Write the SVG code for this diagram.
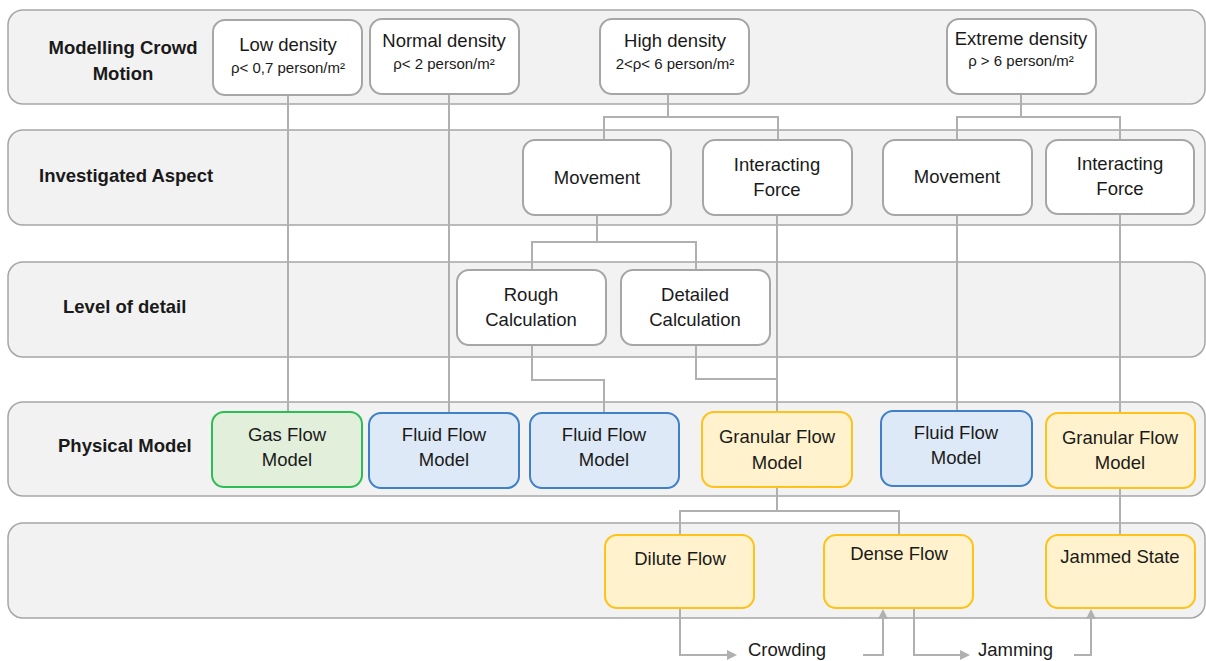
<svg xmlns="http://www.w3.org/2000/svg" width="1206" height="661" viewBox="0 0 1206 661">
  <style>
    .band { fill: #f2f2f2; stroke: #a6a6a6; stroke-width: 1.5; }
    .node { fill: #ffffff; stroke: #a6a6a6; stroke-width: 2; }
    .gas { fill: #e2efda; stroke: #2dbd55; stroke-width: 2; }
    .fluid { fill: #dde9f6; stroke: #3f80c6; stroke-width: 2; }
    .gran { fill: #fff2cc; stroke: #ffc21a; stroke-width: 2; }
    .wire { fill: none; stroke: #b0b0b0; stroke-width: 2; }
    .arrow { fill: none; stroke: #b0b0b0; stroke-width: 2; marker-end: url(#tip); }
    text { font-family: "Liberation Sans", Arial, sans-serif; fill: #1a1a1a; }
    .t { font-size: 18.5px; text-anchor: middle; }
    .s { font-size: 15px; text-anchor: middle; }
    .h { font-size: 18.5px; font-weight: bold; }
  </style>
  <defs>
    <marker id="tip" viewBox="0 0 10 10" refX="8" refY="5" markerWidth="5" markerHeight="5" orient="auto" markerUnits="strokeWidth">
      <path d="M0,0 L10,5 L0,10 z" fill="#b0b0b0"/>
    </marker>
  </defs>

  <!-- swimlane bands -->
  <g id="bands">
    <rect class="band" x="8" y="10" width="1197" height="94" rx="15"/>
    <rect class="band" x="8" y="130" width="1197" height="95" rx="15"/>
    <rect class="band" x="8" y="262" width="1197" height="95" rx="15"/>
    <rect class="band" x="8" y="402" width="1197" height="94" rx="15"/>
    <rect class="band" x="8" y="523" width="1197" height="95" rx="15"/>
    <text class="h" x="123" y="54" text-anchor="middle">Modelling Crowd</text>
    <text class="h" x="123" y="80" text-anchor="middle">Motion</text>
    <text class="h" x="39" y="182">Investigated Aspect</text>
    <text class="h" x="63" y="313">Level of detail</text>
    <text class="h" x="58" y="452">Physical Model</text>
  </g>

  <!-- connectors -->
  <g id="connectors">
    <path class="wire" d="M288,95 V412"/>
    <path class="wire" d="M449,94 V413"/>
    <path class="wire" d="M668,94 V117 M604,140 V117 H778 V140"/>
    <path class="wire" d="M1021,94 V117 M957,140 V117 H1120 V140"/>
    <path class="wire" d="M597,215 V242 M532,270 V242 H696 V270"/>
    <path class="wire" d="M532,345 V380 H604 V413"/>
    <path class="wire" d="M696,345 V379 H777"/>
    <path class="wire" d="M777,215 V412"/>
    <path class="wire" d="M957,215 V411"/>
    <path class="wire" d="M1120,214 V535"/>
    <path class="wire" d="M777,487 V511 M680,535 V511 H899 V535"/>
    <path class="arrow" d="M680,608 V655 H735"/>
    <path class="arrow" d="M863,655 H883 V611"/>
    <path class="arrow" d="M914,608 V655 H968"/>
    <path class="arrow" d="M1074,655 H1091 V611"/>
  </g>

  <!-- density nodes -->
  <g id="low-density">
    <rect class="node" x="213" y="20" width="149" height="75" rx="12"/>
    <text class="t" x="288" y="51">Low density</text>
    <text class="s" x="288" y="73">ρ&lt; 0,7 person/m²</text>
  </g>
  <g id="normal-density">
    <rect class="node" x="370" y="19" width="149" height="75" rx="12"/>
    <text class="t" x="444" y="47">Normal density</text>
    <text class="s" x="444" y="69">ρ&lt; 2 person/m²</text>
  </g>
  <g id="high-density">
    <rect class="node" x="600" y="19" width="149" height="75" rx="12"/>
    <text class="t" x="675" y="47">High density</text>
    <text class="s" x="675" y="69">2&lt;ρ&lt; 6 person/m²</text>
  </g>
  <g id="extreme-density">
    <rect class="node" x="947" y="19" width="149" height="75" rx="12"/>
    <text class="t" x="1021" y="45">Extreme density</text>
    <text class="s" x="1021" y="66">ρ &gt; 6 person/m²</text>
  </g>

  <!-- investigated aspect nodes -->
  <g id="movement-high">
    <rect class="node" x="523" y="140" width="148" height="75" rx="12"/>
    <text class="t" x="597" y="184">Movement</text>
  </g>
  <g id="force-high">
    <rect class="node" x="703" y="140" width="149" height="75" rx="12"/>
    <text class="t" x="777" y="171">Interacting</text>
    <text class="t" x="777" y="196">Force</text>
  </g>
  <g id="movement-extreme">
    <rect class="node" x="883" y="140" width="149" height="75" rx="12"/>
    <text class="t" x="957" y="183">Movement</text>
  </g>
  <g id="force-extreme">
    <rect class="node" x="1046" y="140" width="148" height="74" rx="12"/>
    <text class="t" x="1120" y="170">Interacting</text>
    <text class="t" x="1120" y="195">Force</text>
  </g>

  <!-- level of detail nodes -->
  <g id="rough">
    <rect class="node" x="457" y="270" width="149" height="75" rx="12"/>
    <text class="t" x="531" y="301">Rough</text>
    <text class="t" x="531" y="326">Calculation</text>
  </g>
  <g id="detailed">
    <rect class="node" x="621" y="270" width="149" height="75" rx="12"/>
    <text class="t" x="695" y="301">Detailed</text>
    <text class="t" x="695" y="326">Calculation</text>
  </g>

  <!-- physical model nodes -->
  <g id="gas-flow">
    <rect class="gas" x="212" y="412" width="150" height="75" rx="12"/>
    <text class="t" x="287" y="441">Gas Flow</text>
    <text class="t" x="287" y="466">Model</text>
  </g>
  <g id="fluid-flow-normal">
    <rect class="fluid" x="369" y="413" width="150" height="75" rx="12"/>
    <text class="t" x="444" y="441">Fluid Flow</text>
    <text class="t" x="444" y="466">Model</text>
  </g>
  <g id="fluid-flow-rough">
    <rect class="fluid" x="530" y="413" width="149" height="75" rx="12"/>
    <text class="t" x="604" y="441">Fluid Flow</text>
    <text class="t" x="604" y="466">Model</text>
  </g>
  <g id="granular-flow-high">
    <rect class="gran" x="702" y="412" width="150" height="75" rx="12"/>
    <text class="t" x="777" y="443">Granular Flow</text>
    <text class="t" x="777" y="469">Model</text>
  </g>
  <g id="fluid-flow-extreme">
    <rect class="fluid" x="881" y="411" width="151" height="75" rx="12"/>
    <text class="t" x="956" y="439">Fluid Flow</text>
    <text class="t" x="956" y="464">Model</text>
  </g>
  <g id="granular-flow-extreme">
    <rect class="gran" x="1046" y="413" width="149" height="75" rx="12"/>
    <text class="t" x="1120" y="444">Granular Flow</text>
    <text class="t" x="1120" y="469">Model</text>
  </g>

  <!-- flow state nodes -->
  <g id="dilute-flow">
    <rect class="gran" x="605" y="535" width="149" height="73" rx="12"/>
    <text class="t" x="680" y="565">Dilute Flow</text>
  </g>
  <g id="dense-flow">
    <rect class="gran" x="824" y="535" width="149" height="73" rx="12"/>
    <text class="t" x="899" y="560">Dense Flow</text>
  </g>
  <g id="jammed-state">
    <rect class="gran" x="1046" y="535" width="149" height="73" rx="12"/>
    <text class="t" x="1120" y="563">Jammed State</text>
  </g>

  <!-- transition labels -->
  <g id="transitions">
    <text x="748" y="656" font-size="18.5">Crowding</text>
    <text x="978" y="656" font-size="18.5">Jamming</text>
  </g>
</svg>
